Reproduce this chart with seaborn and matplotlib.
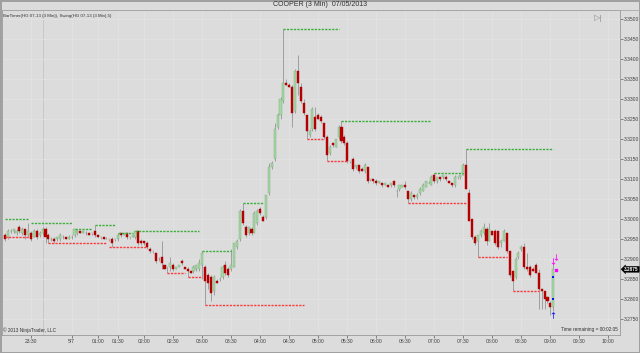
import numpy as np
import pandas as pd
import matplotlib
matplotlib.use("Agg")
import matplotlib.pyplot as plt
from matplotlib.lines import Line2D
import seaborn as sns

# 3 min copper bars (bar index = position on the axis)
opens = [3.2960, 3.2955, 3.2970, 3.2970, 3.2965, 3.2980, 3.2965, 3.2975, 3.2960, 3.2965,
         3.2955, 3.2970, 3.2960, 3.2965, 3.2975, 3.2960, 3.2950, 3.2950, 3.2950, 3.2950,
         3.2955, 3.2955, 3.2950, 3.2955, 3.2960, 3.2965, 3.2970, 3.2965, 3.2965, 3.2965,
         3.2965, 3.2970, 3.2960, 3.2955, 3.2955, 3.2950, 3.2950, 3.2950, 3.2950, 3.2950,
         3.2965, 3.2960, 3.2965, 3.2955, 3.2955, 3.2955, 3.2970, 3.2945, 3.2945, 3.2940,
         3.2925, 3.2920, 3.2915, 3.2900, 3.2905, 3.2885, 3.2880, 3.2880, 3.2885, 3.2875,
         3.2880, 3.2895, 3.2880, 3.2875, 3.2870, 3.2870, 3.2875, 3.2875, 3.2885, 3.2880,
         3.2860, 3.2855, 3.2820, 3.2845, 3.2850, 3.2855, 3.2885, 3.2875, 3.2875, 3.2880,
         3.2930, 3.2950, 3.3020, 3.2980, 3.2965, 3.2975, 3.2965, 3.2990, 3.3025, 3.3005,
         3.3005, 3.3065, 3.3130, 3.3150, 3.3230, 3.3260, 3.3295, 3.3340, 3.3335, 3.3330,
         3.3270, 3.3370, 3.3330, 3.3290, 3.3260, 3.3210, 3.3225, 3.3255, 3.3260, 3.3255,
         3.3240, 3.3205, 3.3165, 3.3190, 3.3180, 3.3205, 3.3230, 3.3205, 3.3190, 3.3145,
         3.3150, 3.3130, 3.3135, 3.3125, 3.3120, 3.3130, 3.3100, 3.3100, 3.3095, 3.3090,
         3.3090, 3.3085, 3.3085, 3.3085, 3.3095, 3.3070, 3.3075, 3.3080, 3.3085, 3.3070,
         3.3050, 3.3060, 3.3055, 3.3065, 3.3070, 3.3080, 3.3090, 3.3085, 3.3110, 3.3095,
         3.3105, 3.3105, 3.3105, 3.3095, 3.3090, 3.3085, 3.3105, 3.3105, 3.3110, 3.3135,
         3.3065, 3.3000, 3.2955, 3.2945, 3.2960, 3.2965, 3.2975, 3.2945, 3.2970, 3.2970,
         3.2970, 3.2940, 3.2945, 3.2965, 3.2920, 3.2870, 3.2855, 3.2905, 3.2925, 3.2930,
         3.2880, 3.2880, 3.2875, 3.2885, 3.2865, 3.2825, 3.2820, 3.2805, 3.2790, 3.2780]
highs = [3.2965, 3.2975, 3.2975, 3.2975, 3.2975, 3.2985, 3.2980, 3.2975, 3.2990, 3.2970,
         3.2975, 3.2975, 3.2970, 3.2980, 3.2980, 3.2965, 3.2955, 3.2955, 3.2955, 3.2965,
         3.2960, 3.2955, 3.2960, 3.2960, 3.2975, 3.2975, 3.2970, 3.2970, 3.2970, 3.2965,
         3.2965, 3.2985, 3.2960, 3.2955, 3.2955, 3.2955, 3.2950, 3.2955, 3.2950, 3.2965,
         3.2965, 3.2965, 3.2965, 3.2955, 3.2960, 3.2970, 3.2970, 3.2950, 3.2945, 3.2945,
         3.2930, 3.2920, 3.2915, 3.2905, 3.2945, 3.2885, 3.2880, 3.2905, 3.2890, 3.2880,
         3.2885, 3.2900, 3.2880, 3.2880, 3.2870, 3.2885, 3.2885, 3.2900, 3.2920, 3.2885,
         3.2865, 3.2860, 3.2860, 3.2850, 3.2855, 3.2885, 3.2895, 3.2880, 3.2925, 3.2940,
         3.2950, 3.3025, 3.3040, 3.2985, 3.2980, 3.2980, 3.3020, 3.3025, 3.3030, 3.3010,
         3.3060, 3.3140, 3.3145, 3.3240, 3.3265, 3.3305, 3.3475, 3.3350, 3.3340, 3.3335,
         3.3375, 3.3410, 3.3340, 3.3300, 3.3260, 3.3225, 3.3280, 3.3280, 3.3265, 3.3260,
         3.3240, 3.3210, 3.3185, 3.3190, 3.3200, 3.3235, 3.3245, 3.3210, 3.3195, 3.3145,
         3.3155, 3.3135, 3.3135, 3.3130, 3.3140, 3.3130, 3.3100, 3.3100, 3.3100, 3.3095,
         3.3090, 3.3090, 3.3085, 3.3090, 3.3095, 3.3075, 3.3085, 3.3085, 3.3095, 3.3070,
         3.3070, 3.3060, 3.3065, 3.3080, 3.3090, 3.3095, 3.3095, 3.3110, 3.3115, 3.3105,
         3.3105, 3.3110, 3.3110, 3.3095, 3.3090, 3.3110, 3.3105, 3.3110, 3.3140, 3.3175,
         3.3075, 3.3000, 3.2960, 3.2960, 3.2975, 3.2990, 3.2980, 3.2990, 3.2970, 3.2975,
         3.2970, 3.2950, 3.2975, 3.2965, 3.2920, 3.2870, 3.2905, 3.2920, 3.2935, 3.2940,
         3.2915, 3.2885, 3.2880, 3.2890, 3.2875, 3.2825, 3.2820, 3.2805, 3.2795, 3.2890]
lows = [3.2945, 3.2950, 3.2965, 3.2965, 3.2960, 3.2965, 3.2960, 3.2950, 3.2955, 3.2945,
        3.2955, 3.2950, 3.2955, 3.2960, 3.2940, 3.2940, 3.2945, 3.2940, 3.2945, 3.2945,
        3.2950, 3.2950, 3.2950, 3.2950, 3.2955, 3.2960, 3.2965, 3.2965, 3.2960, 3.2960,
        3.2960, 3.2955, 3.2955, 3.2950, 3.2950, 3.2950, 3.2945, 3.2930, 3.2945, 3.2945,
        3.2955, 3.2960, 3.2950, 3.2950, 3.2955, 3.2950, 3.2935, 3.2935, 3.2935, 3.2925,
        3.2915, 3.2915, 3.2890, 3.2895, 3.2875, 3.2875, 3.2865, 3.2870, 3.2870, 3.2875,
        3.2880, 3.2885, 3.2875, 3.2855, 3.2865, 3.2865, 3.2870, 3.2870, 3.2850, 3.2785,
        3.2825, 3.2795, 3.2810, 3.2840, 3.2845, 3.2850, 3.2860, 3.2855, 3.2870, 3.2880,
        3.2925, 3.2945, 3.2985, 3.2955, 3.2960, 3.2960, 3.2965, 3.2985, 3.3010, 3.2995,
        3.3000, 3.3060, 3.3125, 3.3145, 3.3225, 3.3250, 3.3290, 3.3335, 3.3330, 3.3230,
        3.3265, 3.3310, 3.3290, 3.3260, 3.3200, 3.3205, 3.3220, 3.3220, 3.3250, 3.3240,
        3.3200, 3.3145, 3.3160, 3.3180, 3.3180, 3.3200, 3.3190, 3.3185, 3.3140, 3.3140,
        3.3120, 3.3125, 3.3115, 3.3120, 3.3115, 3.3090, 3.3095, 3.3090, 3.3085, 3.3090,
        3.3080, 3.3085, 3.3080, 3.3080, 3.3080, 3.3055, 3.3070, 3.3080, 3.3075, 3.3040,
        3.3045, 3.3050, 3.3050, 3.3060, 3.3070, 3.3080, 3.3090, 3.3085, 3.3090, 3.3090,
        3.3095, 3.3100, 3.3095, 3.3090, 3.3080, 3.3080, 3.3100, 3.3100, 3.3110, 3.3075,
        3.2995, 3.2950, 3.2935, 3.2905, 3.2955, 3.2960, 3.2935, 3.2945, 3.2960, 3.2935,
        3.2925, 3.2930, 3.2945, 3.2915, 3.2855, 3.2820, 3.2850, 3.2900, 3.2920, 3.2875,
        3.2870, 3.2855, 3.2870, 3.2865, 3.2775, 3.2775, 3.2775, 3.2790, 3.2760, 3.2770]
closes = [3.2950, 3.2970, 3.2970, 3.2975, 3.2970, 3.2970, 3.2975, 3.2960, 3.2970, 3.2950,
          3.2970, 3.2955, 3.2965, 3.2975, 3.2955, 3.2950, 3.2950, 3.2945, 3.2955, 3.2960,
          3.2955, 3.2950, 3.2955, 3.2955, 3.2975, 3.2970, 3.2965, 3.2970, 3.2965, 3.2960,
          3.2965, 3.2960, 3.2955, 3.2955, 3.2950, 3.2950, 3.2950, 3.2940, 3.2950, 3.2960,
          3.2960, 3.2965, 3.2955, 3.2955, 3.2960, 3.2970, 3.2940, 3.2940, 3.2940, 3.2930,
          3.2920, 3.2920, 3.2895, 3.2900, 3.2890, 3.2875, 3.2880, 3.2890, 3.2875, 3.2880,
          3.2885, 3.2890, 3.2875, 3.2870, 3.2865, 3.2880, 3.2885, 3.2890, 3.2915, 3.2845,
          3.2840, 3.2815, 3.2855, 3.2840, 3.2850, 3.2880, 3.2865, 3.2860, 3.2885, 3.2940,
          3.2945, 3.3020, 3.2990, 3.2960, 3.2980, 3.2965, 3.3015, 3.3020, 3.3015, 3.2995,
          3.3060, 3.3130, 3.3140, 3.3225, 3.3260, 3.3300, 3.3340, 3.3335, 3.3330, 3.3265,
          3.3370, 3.3340, 3.3295, 3.3265, 3.3220, 3.3220, 3.3275, 3.3225, 3.3250, 3.3245,
          3.3205, 3.3160, 3.3180, 3.3185, 3.3200, 3.3230, 3.3195, 3.3190, 3.3145, 3.3145,
          3.3125, 3.3135, 3.3120, 3.3120, 3.3135, 3.3095, 3.3100, 3.3095, 3.3090, 3.3095,
          3.3085, 3.3090, 3.3080, 3.3090, 3.3085, 3.3070, 3.3085, 3.3085, 3.3080, 3.3050,
          3.3065, 3.3055, 3.3060, 3.3075, 3.3085, 3.3095, 3.3090, 3.3105, 3.3095, 3.3105,
          3.3100, 3.3110, 3.3100, 3.3090, 3.3085, 3.3105, 3.3105, 3.3110, 3.3135, 3.3075,
          3.2995, 3.2955, 3.2940, 3.2960, 3.2970, 3.2980, 3.2945, 3.2975, 3.2960, 3.2940,
          3.2930, 3.2945, 3.2970, 3.2920, 3.2860, 3.2845, 3.2900, 3.2915, 3.2930, 3.2880,
          3.2875, 3.2860, 3.2870, 3.2865, 3.2825, 3.2820, 3.2800, 3.2795, 3.2780, 3.2875]

tick_bars = [9, 23, 32, 39, 48, 58, 68, 78, 88, 98, 108, 118, 128, 138, 148, 158,
             168, 178, 188, 198, 208]
tick_labels = ["23:30", "5/7", "01:00", "01:30", "02:00", "02:30", "03:00", "03:30",
               "04:00", "04:30", "05:00", "05:30", "06:00", "06:30", "07:00", "07:30",
               "08:00", "08:30", "09:00", "09:30", "10:00"]

# Swing(5) indicator lines
swing_high_start = [0, 9, 24, 31, 39, 45, 68, 82, 96, 116, 148, 159]
swing_high_end = [8, 23, 30, 38, 44, 67, 78, 89, 115, 147, 158, 189]
swing_high_price = [3.3000, 3.2990, 3.2975, 3.2985, 3.2965, 3.2970, 3.2920, 3.3040,
                    3.3475, 3.3245, 3.3115, 3.3175]
swing_low_start = [0, 15, 36, 56, 63, 69, 104, 111, 139, 163, 175]
swing_low_end = [8, 35, 49, 62, 68, 103, 110, 118, 159, 173, 184]
swing_low_price = [3.2955, 3.2940, 3.2930, 3.2865, 3.2855, 3.2785, 3.3200, 3.3145,
                   3.3040, 3.2905, 3.2820]

# signal marks on the last bar
pink_bars = [189, 190]
pink_prices = [3.2895, 3.2905]
blue_bars = [189, 189]
blue_prices = [3.2855, 3.2800]
last_price = 3.2875

BG = "#dcdcdc"
sns.set_style("white", {"axes.facecolor": BG, "figure.facecolor": BG,
                        "axes.edgecolor": "#9a9a9a"})
plt.rcParams["font.family"] = ["Liberation Sans", "DejaVu Sans"]

fig = plt.figure(figsize=(6.4, 3.53), dpi=100)
ax = fig.add_axes([2 / 640, 18 / 353, 618 / 640, 325 / 353])

# grid
for t in tick_bars:
    ax.axvline(t, color="#e2e2e2", lw=0.6, zorder=0)
ax.axvline(13, color="#c8c8c8", lw=0.7, zorder=0)
yt = np.arange(3.2750, 3.35001, 0.005)
for v in yt:
    ax.axhline(v, color="#e2e2e2", lw=0.6, zorder=0)

# candles
df = pd.DataFrame({"bar": np.arange(len(opens)), "open": opens, "high": highs,
                   "low": lows, "close": closes})
df["up"] = df["close"] >= df["open"]
df["lo"] = df[["open", "close"]].min(axis=1)
df["h"] = (df["close"] - df["open"]).abs().clip(lower=0.00008)

ax.vlines(df["bar"], df["low"], df["high"], color="#959595", lw=0.6, zorder=2)
up = df[df["up"]]
dn = df[~df["up"]]
ax.bar(up["bar"], up["h"], bottom=up["lo"], width=0.72, color="#a4d8a4",
       edgecolor="#80a880", linewidth=0.3, zorder=3)
ax.bar(dn["bar"], dn["h"], bottom=dn["lo"], width=0.72, color="#b80000",
       edgecolor="#a80000", linewidth=0.3, zorder=3)

# swing lines, one dashed segment each
for s, e, p in zip(swing_high_start, swing_high_end, swing_high_price):
    ax.plot([s, e], [p, p], color="#3aae3a", lw=1.0, dashes=(1.6, 0.9),
            dash_capstyle="butt", zorder=6)
for s, e, p in zip(swing_low_start, swing_low_end, swing_low_price):
    ax.plot([s, e], [p, p], color="#ff3a3a", lw=1.0, dashes=(1.6, 0.9),
            dash_capstyle="butt", zorder=6)

# signal markers
sns.scatterplot(x=pink_bars, y=pink_prices, marker=r"$\downarrow$", s=22,
                color="#ff00ff", linewidth=0, ax=ax, zorder=7)
ax.scatter([190], [3.2872], marker="s", s=2, color="#ff00ff", zorder=7)
sns.scatterplot(x=blue_bars, y=blue_prices, marker="s", s=3, color="#1010ff",
                linewidth=0, ax=ax, zorder=7)
ax.scatter([189], [3.2762], marker=r"$\uparrow$", s=22, color="#1010ff",
           linewidths=0, zorder=7)

ax.set_xlim(-1, 212)
ax.set_ylim(3.271075, 3.352325)
ax.set_xlabel("")
ax.set_ylabel("")

ax.set_xticks(tick_bars)
ax.set_xticklabels(tick_labels)
ax.yaxis.tick_right()
ax.set_yticks(yt)
ax.set_yticklabels([f"{v:.4f}" for v in yt])
ax.tick_params(axis="both", labelsize=3.6, colors="#5a5a5a", labelcolor="#404040",
               length=2, width=0.5, pad=1)
ax.tick_params(axis="y", right=True, left=False)
ax.tick_params(axis="x", bottom=True)
for sp in ax.spines.values():
    sp.set_visible(True)
    sp.set_color("#9a9a9a")
    sp.set_linewidth(0.6)

# last price flag on the axis
ax.annotate(f"{last_price:.4f}", xy=(1.0, last_price), xycoords=("axes fraction", "data"),
            xytext=(3.0, 0), textcoords="offset points", ha="left", va="center",
            fontsize=3.4, color="white", fontweight="bold",
            bbox=dict(boxstyle="larrow,pad=0.1", fc="black", ec="black", lw=0.3))

# texts
fig.text(0.5, 1 - 5 / 353, "COOPER (3 Min)  07/05/2013", ha="center", va="center",
         fontsize=5, color="#303030")
fig.add_artist(Line2D([0, 1], [1 - 9.5 / 353, 1 - 9.5 / 353], color="#a8a8a8", lw=0.6))
ax.text(0.002, 0.988, "BarTimer(HG 07-13 (3 Min)), Swing(HG 07-13 (3 Min),5)",
        transform=ax.transAxes, ha="left", va="top", fontsize=3.2, color="#303030")
ax.text(0.001, 0.006, "\u00a9 2013 NinjaTrader, LLC", transform=ax.transAxes,
        ha="left", va="bottom", fontsize=3.4, color="#303030")
ax.text(0.997, 0.008, "Time remaining = 00:02:05", transform=ax.transAxes,
        ha="right", va="bottom", fontsize=3.4, color="#303030")
ax.text(0.958, 0.985, "\u25b7|", transform=ax.transAxes, ha="left", va="top",
        fontsize=6, color="#8a8a8a")

fig.patch.set_edgecolor("#a0a0a0")
fig.patch.set_linewidth(1.0)

fig.savefig("out.png", dpi=100, facecolor=fig.get_facecolor(), edgecolor=fig.get_edgecolor())
